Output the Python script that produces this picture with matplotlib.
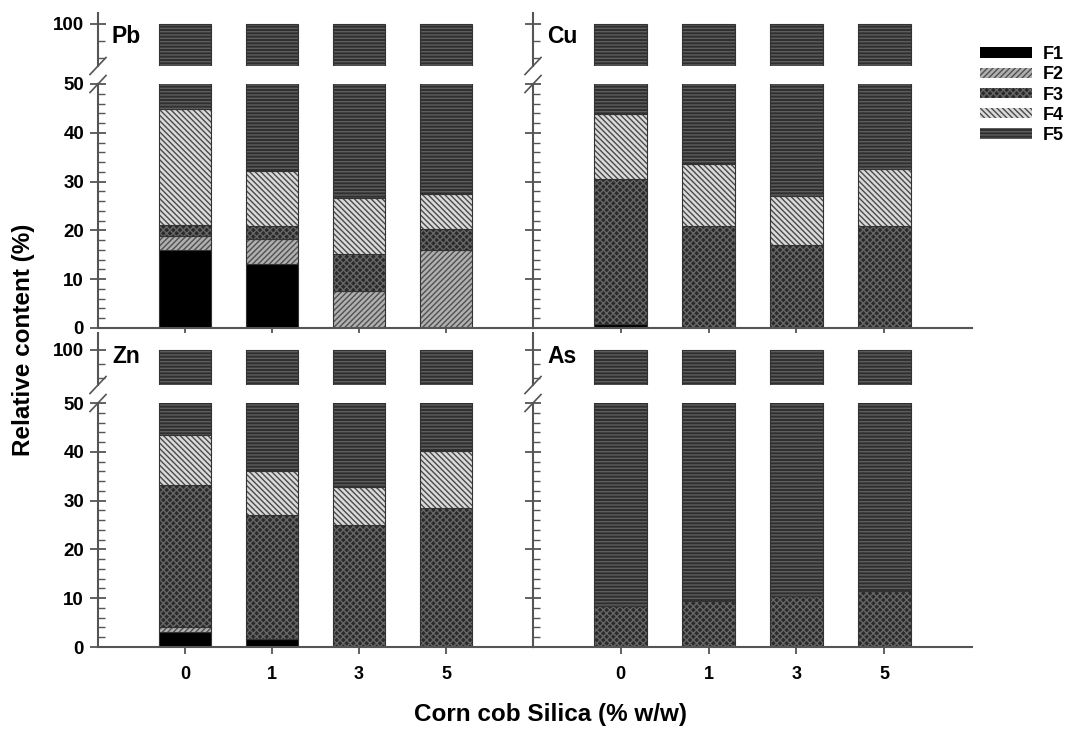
import matplotlib.pyplot as plt
import numpy as np

plt.rcParams['font.family'] = ['Liberation Sans', 'DejaVu Sans']
plt.rcParams['font.weight'] = 'bold'
plt.rcParams['hatch.linewidth'] = 1.0

doses = ['0', '1', '3', '5']
fractions = ['F1', 'F2', 'F3', 'F4', 'F5']

# fraction contents (%)
pb_F1 = [16.0, 13.1, 0.0, 0.0]
pb_F2 = [2.9, 5.1, 7.6, 16.0]
pb_F3 = [2.2, 2.6, 7.5, 4.2]
pb_F4 = [23.8, 11.3, 11.5, 7.2]
pb_F5 = [55.1, 67.9, 73.4, 72.6]

cu_F1 = [0.9, 0.0, 0.0, 0.0]
cu_F2 = [0.0, 0.0, 0.0, 0.0]
cu_F3 = [29.6, 20.8, 17.1, 20.8]
cu_F4 = [13.3, 12.9, 10.0, 11.8]
cu_F5 = [56.2, 66.3, 72.9, 67.4]

zn_F1 = [3.1, 1.6, 0.0, 0.0]
zn_F2 = [1.0, 0.0, 0.0, 0.0]
zn_F3 = [29.0, 25.4, 25.1, 28.4]
zn_F4 = [10.3, 9.0, 7.6, 11.7]
zn_F5 = [56.6, 64.0, 67.3, 59.9]

as_F1 = [0.0, 0.0, 0.0, 0.0]
as_F2 = [0.0, 0.0, 0.0, 0.0]
as_F3 = [8.5, 9.4, 10.4, 11.5]
as_F4 = [0.0, 0.0, 0.0, 0.0]
as_F5 = [91.5, 90.6, 89.6, 88.5]

panels = [
    ('Pb', [pb_F1, pb_F2, pb_F3, pb_F4, pb_F5]),
    ('Cu', [cu_F1, cu_F2, cu_F3, cu_F4, cu_F5]),
    ('Zn', [zn_F1, zn_F2, zn_F3, zn_F4, zn_F5]),
    ('As', [as_F1, as_F2, as_F3, as_F4, as_F5]),
]

# face colour, hatch colour, hatch
styles = [
    ('black', 'black', ''),
    ('#b0b0b0', '#505050', '//////'),
    ('#2a2a2a', '#666666', 'xxxxx'),
    ('#dadada', '#4a4a4a', '\\\\\\\\\\\\'),
    ('#2f2f2f', '#5e5e5e', '-----'),
]

W, H = 1069, 729
fig = plt.figure(figsize=(W / 100, H / 100), dpi=100)

def fx(px):
    return px / W

def fy(px):
    return 1 - px / H

cols = [(98, 533), (533, 972)]
# (upper top, upper bottom, lower top, lower bottom, upper ylim top)
rows = [(13, 66, 84, 328, 101.3), (333, 385, 403, 647, 102.4)]
spine_c = '#555555'
x = np.arange(len(doses))
handles = None

for i, (name, data) in enumerate(panels):
    r, c = divmod(i, 2)
    x0, x1 = cols[c]
    ut, ub, lt, lb, utop = rows[r]
    ax_u = fig.add_axes([fx(x0), fy(ub), fx(x1 - x0), (ub - ut) / H])
    ax_l = fig.add_axes([fx(x0), fy(lb), fx(x1 - x0), (lb - lt) / H])

    for ax in (ax_u, ax_l):
        bottom = np.zeros(len(doses))
        conts = []
        for vals, (fc, hc, h) in zip(data, styles):
            b = ax.bar(x, vals, 0.6, bottom=bottom, color=fc, edgecolor=hc,
                       linewidth=0, hatch=h)
            ax.bar(x, vals, 0.6, bottom=bottom, fill=False,
                   edgecolor='#333333', linewidth=0.8)
            conts.append(b)
            bottom = bottom + np.array(vals)
        if handles is None:
            handles = conts
        ax.set_xlim(-1, 4)
        for s in ('top', 'right'):
            ax.spines[s].set_visible(False)
        for s in ('left', 'bottom'):
            ax.spines[s].set_color(spine_c)
            ax.spines[s].set_linewidth(1.5)

    ax_u.set_ylim(95, utop)
    ax_u.spines['bottom'].set_visible(False)
    ax_u.set_yticks([100])
    ax_u.set_yticks([96, 98], minor=True)
    ax_u.set_xticks([])
    ax_l.set_ylim(0, 50)
    ax_l.set_yticks(np.arange(0, 51, 10))
    ax_l.set_yticks(np.arange(0, 51, 2), minor=True)
    ax_l.set_xticks(x)
    if r == 1:
        ax_l.set_xticklabels(doses, fontsize=13, fontweight='bold')
    else:
        ax_l.set_xticklabels([])
    for ax in (ax_u, ax_l):
        ax.tick_params(axis='y', which='major', direction='inout', length=12,
                       width=1.3, color=spine_c, labelsize=13.5, pad=4)
        ax.tick_params(axis='y', which='minor', direction='in', length=5,
                       width=1.0, color=spine_c)
        if c == 1:
            ax.set_yticklabels([])
    ax_l.tick_params(axis='x', direction='out', length=5, width=1.3,
                     color=spine_c, pad=9)

    # break marks on the left spine
    dx = 8 / (x1 - x0)
    for ax, hpx in ((ax_u, ub - ut), (ax_l, lb - lt)):
        y0 = 0 if ax is ax_u else 1
        dy = 8.5 / hpx
        ax.plot([-dx, dx], [y0 - dy, y0 + dy], transform=ax.transAxes,
                color=spine_c, lw=1.2, clip_on=False)

    ax_u.text(0.032, 0.55, name, transform=ax_u.transAxes, fontsize=16.5,
              fontweight='bold', va='center', ha='left')

fig.legend(handles, fractions, loc='upper left',
           bbox_to_anchor=(fx(980), fy(46)), frameon=False,
           borderpad=0, borderaxespad=0,
           prop={'size': 13, 'weight': 'bold'}, handlelength=2.9,
           handleheight=0.5, labelspacing=0.18, handletextpad=0.55)

fig.text(fx(24), fy(340), 'Relative content (%)', rotation=90, fontsize=17.5,
         fontweight='bold', ha='center', va='center')
fig.text(fx(551), fy(714), 'Corn cob Silica (% w/w)', fontsize=17.5,
         fontweight='bold', ha='center', va='center')

plt.savefig('out.png', dpi=100)
